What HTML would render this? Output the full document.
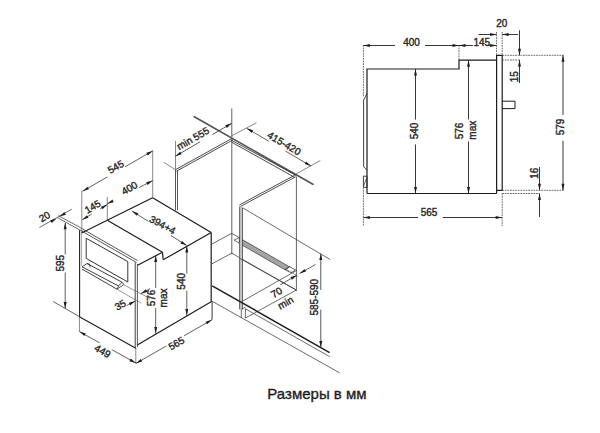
<!DOCTYPE html>
<html><head><meta charset="utf-8"><style>
html,body{margin:0;padding:0;background:#fff;}
body{width:600px;height:433px;overflow:hidden;}
svg{display:block;font-family:"Liberation Sans",sans-serif;}
.cap{position:absolute;left:0;top:0;}
</style></head><body>
<svg width="600" height="433" viewBox="0 0 600 433">
<rect width="600" height="433" fill="#fff"/>
<polyline points="367.00,193.50 367.00,69.00 459.00,69.00 459.00,60.20 496.60,60.20" fill="none" stroke="#1c1c1c" stroke-width="1.2" stroke-linejoin="miter"/>
<line x1="367.00" y1="193.50" x2="496.60" y2="193.50" stroke="#1c1c1c" stroke-width="1.2"/>
<polyline points="496.60,193.50 496.60,55.30 502.20,55.30 502.20,190.30 496.60,190.30" fill="none" stroke="#1c1c1c" stroke-width="1.2" stroke-linejoin="miter"/>
<polyline points="502.20,101.20 515.00,101.20 515.00,108.60 502.20,108.60" fill="none" stroke="#1c1c1c" stroke-width="1.0" stroke-linejoin="miter"/>
<path d="M367,93 Q366,96 363.6,100 L363.6,166 Q364,168 367,170" fill="none" stroke="#2c2c2c" stroke-width="0.9"/>
<polygon points="363.40,176.20 367.00,176.20 367.00,187.30 363.40,187.30" fill="none" stroke="#2c2c2c" stroke-width="0.9" stroke-linejoin="miter"/>
<line x1="363.60" y1="186.00" x2="366.60" y2="178.00" stroke="#2c2c2c" stroke-width="0.7"/>
<line x1="363.40" y1="45.00" x2="363.40" y2="97.00" stroke="#4a4a4a" stroke-width="0.8" stroke-dasharray="1.8,0.8"/>
<line x1="363.40" y1="187.30" x2="363.40" y2="226.00" stroke="#4a4a4a" stroke-width="0.8" stroke-dasharray="1.8,0.8"/>
<line x1="459.00" y1="45.00" x2="459.00" y2="60.00" stroke="#4a4a4a" stroke-width="0.8" stroke-dasharray="1.8,0.8"/>
<line x1="496.60" y1="32.00" x2="496.60" y2="55.30" stroke="#4a4a4a" stroke-width="0.8" stroke-dasharray="1.8,0.8"/>
<line x1="502.20" y1="32.00" x2="502.20" y2="55.30" stroke="#4a4a4a" stroke-width="0.8" stroke-dasharray="1.8,0.8"/>
<line x1="502.20" y1="55.30" x2="563.50" y2="55.30" stroke="#4a4a4a" stroke-width="0.8" stroke-dasharray="1.8,0.8"/>
<line x1="502.20" y1="60.00" x2="519.70" y2="60.00" stroke="#4a4a4a" stroke-width="0.8" stroke-dasharray="1.8,0.8"/>
<line x1="502.20" y1="190.30" x2="563.50" y2="190.30" stroke="#4a4a4a" stroke-width="0.8" stroke-dasharray="1.8,0.8"/>
<line x1="502.20" y1="193.50" x2="539.60" y2="193.50" stroke="#4a4a4a" stroke-width="0.8" stroke-dasharray="1.8,0.8"/>
<line x1="502.20" y1="193.50" x2="502.20" y2="226.00" stroke="#4a4a4a" stroke-width="0.8" stroke-dasharray="1.8,0.8"/>
<line x1="363.40" y1="45.50" x2="395.00" y2="45.50" stroke="#2c2c2c" stroke-width="0.95"/>
<line x1="425.00" y1="45.50" x2="459.00" y2="45.50" stroke="#2c2c2c" stroke-width="0.95"/>
<polygon points="363.40,45.50 369.90,44.00 369.90,47.00" fill="#1e1e1e"/>
<polygon points="459.00,45.50 452.50,47.00 452.50,44.00" fill="#1e1e1e"/>
<text transform="translate(411.50,42.30) rotate(0)" x="0" y="3.60" font-size="10" text-anchor="middle" fill="#2a2a2a" stroke="#2a2a2a" stroke-width="0.4">400</text>
<line x1="459.00" y1="45.50" x2="473.00" y2="45.50" stroke="#2c2c2c" stroke-width="0.95"/>
<line x1="487.00" y1="45.50" x2="496.60" y2="45.50" stroke="#2c2c2c" stroke-width="0.95"/>
<polygon points="459.00,45.50 465.50,44.00 465.50,47.00" fill="#1e1e1e"/>
<polygon points="496.60,45.50 490.10,47.00 490.10,44.00" fill="#1e1e1e"/>
<text transform="translate(481.80,42.00) rotate(0)" x="0" y="3.60" font-size="10" text-anchor="middle" fill="#2a2a2a" stroke="#2a2a2a" stroke-width="0.4">145</text>
<line x1="478.50" y1="34.50" x2="496.60" y2="34.50" stroke="#2c2c2c" stroke-width="0.95"/>
<line x1="502.20" y1="34.50" x2="518.00" y2="34.50" stroke="#2c2c2c" stroke-width="0.95"/>
<polygon points="496.60,34.50 490.10,36.00 490.10,33.00" fill="#1e1e1e"/>
<polygon points="502.20,34.50 508.70,33.00 508.70,36.00" fill="#1e1e1e"/>
<text transform="translate(501.80,23.80) rotate(0)" x="0" y="3.60" font-size="10" text-anchor="middle" fill="#2a2a2a" stroke="#2a2a2a" stroke-width="0.4">20</text>
<line x1="519.50" y1="30.30" x2="519.50" y2="55.30" stroke="#2c2c2c" stroke-width="0.95"/>
<polygon points="519.50,55.30 518.00,48.80 521.00,48.80" fill="#1e1e1e"/>
<line x1="519.50" y1="60.00" x2="519.50" y2="83.00" stroke="#2c2c2c" stroke-width="0.95"/>
<polygon points="519.50,60.00 521.00,66.50 518.00,66.50" fill="#1e1e1e"/>
<text transform="translate(514.30,76.70) rotate(-90)" x="0" y="3.60" font-size="10" text-anchor="middle" fill="#2a2a2a" stroke="#2a2a2a" stroke-width="0.4">15</text>
<line x1="563.00" y1="55.30" x2="563.00" y2="115.00" stroke="#2c2c2c" stroke-width="0.95"/>
<polygon points="563.00,55.30 564.50,61.80 561.50,61.80" fill="#1e1e1e"/>
<line x1="563.00" y1="140.80" x2="563.00" y2="190.30" stroke="#2c2c2c" stroke-width="0.95"/>
<polygon points="563.00,190.30 561.50,183.80 564.50,183.80" fill="#1e1e1e"/>
<text transform="translate(560.30,127.00) rotate(-90)" x="0" y="3.60" font-size="10" text-anchor="middle" fill="#2a2a2a" stroke="#2a2a2a" stroke-width="0.4">579</text>
<line x1="539.50" y1="167.00" x2="539.50" y2="190.30" stroke="#2c2c2c" stroke-width="0.95"/>
<polygon points="539.50,190.30 538.00,183.80 541.00,183.80" fill="#1e1e1e"/>
<line x1="539.50" y1="193.50" x2="539.50" y2="217.00" stroke="#2c2c2c" stroke-width="0.95"/>
<polygon points="539.50,193.50 541.00,200.00 538.00,200.00" fill="#1e1e1e"/>
<text transform="translate(534.20,173.20) rotate(-90)" x="0" y="3.60" font-size="10" text-anchor="middle" fill="#2a2a2a" stroke="#2a2a2a" stroke-width="0.4">16</text>
<line x1="415.50" y1="69.00" x2="415.50" y2="119.50" stroke="#2c2c2c" stroke-width="0.95"/>
<polygon points="415.50,69.00 417.00,75.50 414.00,75.50" fill="#1e1e1e"/>
<line x1="415.50" y1="144.50" x2="415.50" y2="193.50" stroke="#2c2c2c" stroke-width="0.95"/>
<polygon points="415.50,193.50 414.00,187.00 417.00,187.00" fill="#1e1e1e"/>
<text transform="translate(414.30,131.00) rotate(-90)" x="0" y="3.60" font-size="10" text-anchor="middle" fill="#2a2a2a" stroke="#2a2a2a" stroke-width="0.4">540</text>
<line x1="468.50" y1="60.20" x2="468.50" y2="119.50" stroke="#2c2c2c" stroke-width="0.95"/>
<polygon points="468.50,60.20 470.00,66.70 467.00,66.70" fill="#1e1e1e"/>
<line x1="468.50" y1="141.50" x2="468.50" y2="193.50" stroke="#2c2c2c" stroke-width="0.95"/>
<polygon points="468.50,193.50 467.00,187.00 470.00,187.00" fill="#1e1e1e"/>
<text transform="translate(459.30,131.00) rotate(-90)" x="0" y="3.60" font-size="10" text-anchor="middle" fill="#2a2a2a" stroke="#2a2a2a" stroke-width="0.4">576</text>
<text transform="translate(473.20,130.20) rotate(-90)" x="0" y="2.70" font-size="10" text-anchor="middle" fill="#2a2a2a" stroke="#2a2a2a" stroke-width="0.4">max</text>
<line x1="363.40" y1="217.50" x2="418.00" y2="217.50" stroke="#2c2c2c" stroke-width="0.95"/>
<line x1="442.80" y1="217.50" x2="502.20" y2="217.50" stroke="#2c2c2c" stroke-width="0.95"/>
<polygon points="363.40,217.50 369.90,216.00 369.90,219.00" fill="#1e1e1e"/>
<polygon points="502.20,217.50 495.70,219.00 495.70,216.00" fill="#1e1e1e"/>
<text transform="translate(429.00,212.80) rotate(0)" x="0" y="3.60" font-size="10" text-anchor="middle" fill="#2a2a2a" stroke="#2a2a2a" stroke-width="0.4">565</text>
<line x1="175.50" y1="169.70" x2="231.60" y2="138.60" stroke="#2c2c2c" stroke-width="0.85"/>
<line x1="176.37" y1="171.27" x2="232.47" y2="140.17" stroke="#2c2c2c" stroke-width="0.85"/>
<line x1="175.50" y1="169.70" x2="175.50" y2="210.40" stroke="#2c2c2c" stroke-width="0.8"/>
<line x1="177.50" y1="170.80" x2="177.50" y2="210.40" stroke="#2c2c2c" stroke-width="0.8"/>
<line x1="231.80" y1="108.50" x2="231.80" y2="254.30" stroke="#2c2c2c" stroke-width="0.75"/>
<line x1="194.3" y1="116.7" x2="312.9" y2="184.3" stroke="#555" stroke-width="1.7" stroke-linecap="round"/>
<line x1="231.80" y1="140.40" x2="296.00" y2="175.40" stroke="#2c2c2c" stroke-width="0.85"/>
<line x1="231.80" y1="142.30" x2="294.50" y2="177.30" stroke="#2c2c2c" stroke-width="0.85"/>
<line x1="296.40" y1="176.50" x2="296.40" y2="289.00" stroke="#2c2c2c" stroke-width="0.75"/>
<line x1="295.60" y1="176.80" x2="240.20" y2="206.60" stroke="#2c2c2c" stroke-width="0.85"/>
<line x1="294.75" y1="175.21" x2="239.35" y2="205.01" stroke="#2c2c2c" stroke-width="0.85"/>
<line x1="242.60" y1="207.80" x2="330.30" y2="259.60" stroke="#2c2c2c" stroke-width="0.7"/>
<line x1="211.60" y1="244.20" x2="231.80" y2="233.30" stroke="#2c2c2c" stroke-width="0.7"/>
<line x1="231.80" y1="233.30" x2="239.80" y2="238.00" stroke="#2c2c2c" stroke-width="0.7"/>
<line x1="211.60" y1="264.00" x2="231.80" y2="253.10" stroke="#2c2c2c" stroke-width="0.7"/>
<line x1="231.80" y1="253.10" x2="240.00" y2="258.00" stroke="#2c2c2c" stroke-width="0.7"/>
<line x1="242.60" y1="259.40" x2="296.90" y2="290.40" stroke="#2c2c2c" stroke-width="0.7"/>
<polygon points="241.4,239.1 289.5,266.8 285,269.8 241.4,244.7" fill="#a4a4a4" stroke="#333" stroke-width="0.7"/>
<polygon points="234.10,240.10 239.30,237.50 239.30,243.20" fill="none" stroke="#2c2c2c" stroke-width="0.7" stroke-linejoin="miter"/>
<polygon points="289.50,266.80 295.50,269.80 291.00,272.80 285.00,269.80" fill="none" stroke="#2c2c2c" stroke-width="0.7" stroke-linejoin="miter"/>
<rect x="239.6" y="206.6" width="2.9" height="102.8" fill="#c8c8c8"/>
<line x1="239.60" y1="206.60" x2="239.60" y2="309.40" stroke="#2c2c2c" stroke-width="0.7"/>
<line x1="242.50" y1="207.80" x2="242.50" y2="309.40" stroke="#2c2c2c" stroke-width="0.7"/>
<line x1="242.80" y1="301.00" x2="296.90" y2="270.30" stroke="#2c2c2c" stroke-width="0.7"/>
<line x1="245.40" y1="318.00" x2="296.90" y2="289.70" stroke="#2c2c2c" stroke-width="0.7"/>
<line x1="212.20" y1="285.80" x2="329.60" y2="352.60" stroke="#1e1e1e" stroke-width="1.5"/>
<line x1="245.40" y1="308.80" x2="329.60" y2="356.60" stroke="#2c2c2c" stroke-width="0.7"/>
<line x1="212.20" y1="301.30" x2="339.70" y2="372.90" stroke="#2c2c2c" stroke-width="0.7"/>
<line x1="212.20" y1="301.30" x2="212.20" y2="319.40" stroke="#555" stroke-width="0.7"/>
<line x1="241.30" y1="309.40" x2="241.30" y2="318.00" stroke="#2c2c2c" stroke-width="0.7"/>
<line x1="245.40" y1="308.40" x2="245.40" y2="318.00" stroke="#2c2c2c" stroke-width="0.7"/>
<line x1="241.30" y1="309.40" x2="245.40" y2="307.20" stroke="#2c2c2c" stroke-width="0.7"/>
<line x1="175.50" y1="141.00" x2="175.50" y2="169.70" stroke="#555" stroke-width="0.7"/>
<line x1="163.90" y1="162.40" x2="175.50" y2="169.70" stroke="#555" stroke-width="0.7"/>
<line x1="175.30" y1="156.30" x2="200.12" y2="141.78" stroke="#2c2c2c" stroke-width="0.8"/>
<line x1="212.52" y1="134.52" x2="231.70" y2="123.30" stroke="#2c2c2c" stroke-width="0.8"/>
<polygon points="175.30,156.30 180.15,151.72 181.67,154.31" fill="#1e1e1e"/>
<polygon points="231.70,123.30 226.85,127.88 225.33,125.29" fill="#1e1e1e"/>
<text transform="translate(193.00,138.60) rotate(-30)" x="0" y="3.30" font-size="10" text-anchor="middle" fill="#2a2a2a" stroke="#2a2a2a" stroke-width="0.4">min 555</text>
<line x1="232.00" y1="135.60" x2="256.50" y2="122.80" stroke="#555" stroke-width="0.7"/>
<line x1="296.00" y1="174.00" x2="320.30" y2="160.50" stroke="#555" stroke-width="0.7"/>
<line x1="246.80" y1="128.30" x2="268.95" y2="141.34" stroke="#2c2c2c" stroke-width="0.75"/>
<line x1="285.32" y1="150.98" x2="311.00" y2="166.10" stroke="#2c2c2c" stroke-width="0.75"/>
<polygon points="246.80,128.30 253.16,130.31 251.64,132.89" fill="#1e1e1e"/>
<polygon points="311.00,166.10 304.64,164.09 306.16,161.51" fill="#1e1e1e"/>
<text transform="translate(284.20,143.30) rotate(30.5)" x="0" y="3.60" font-size="10" text-anchor="middle" fill="#2a2a2a" stroke="#2a2a2a" stroke-width="0.4">415-420</text>
<line x1="320.80" y1="253.60" x2="320.80" y2="289.98" stroke="#2c2c2c" stroke-width="0.8"/>
<line x1="320.80" y1="309.62" x2="320.80" y2="347.60" stroke="#2c2c2c" stroke-width="0.8"/>
<polygon points="320.80,253.60 322.30,260.10 319.30,260.10" fill="#1e1e1e"/>
<polygon points="320.80,347.60 319.30,341.10 322.30,341.10" fill="#1e1e1e"/>
<text transform="translate(314.40,297.20) rotate(-90)" x="0" y="3.60" font-size="10" text-anchor="middle" fill="#2a2a2a" stroke="#2a2a2a" stroke-width="0.4">585-590</text>
<text transform="translate(276.50,292.40) rotate(-30)" x="0" y="3.60" font-size="10" text-anchor="middle" fill="#2a2a2a" stroke="#2a2a2a" stroke-width="0.4">70</text>
<text transform="translate(286.00,303.30) rotate(-30)" x="0" y="2.70" font-size="10" text-anchor="middle" fill="#2a2a2a" stroke="#2a2a2a" stroke-width="0.4">min</text>
<line x1="280.20" y1="284.80" x2="296.90" y2="275.20" stroke="#2c2c2c" stroke-width="0.75"/>
<polygon points="296.90,275.20 292.00,279.73 290.51,277.12" fill="#1e1e1e"/>
<line x1="299.60" y1="273.50" x2="315.60" y2="264.50" stroke="#2c2c2c" stroke-width="0.75"/>
<polygon points="299.60,273.50 304.51,268.99 305.99,271.60" fill="#1e1e1e"/>
<line x1="285.80" y1="268.90" x2="298.30" y2="276.50" stroke="#555" stroke-width="0.6"/>
<line x1="240.00" y1="258.50" x2="296.90" y2="290.40" stroke="#2c2c2c" stroke-width="0.7"/>
<line x1="79.60" y1="230.20" x2="79.60" y2="316.80" stroke="#1c1c1c" stroke-width="1.1"/>
<line x1="81.60" y1="231.50" x2="81.60" y2="266.00" stroke="#555" stroke-width="0.5"/>
<line x1="80.20" y1="230.20" x2="136.50" y2="262.50" stroke="#2c2c2c" stroke-width="0.8"/>
<line x1="81.29" y1="228.29" x2="137.59" y2="260.59" stroke="#2c2c2c" stroke-width="0.8"/>
<line x1="135.20" y1="262.50" x2="135.20" y2="348.20" stroke="#2c2c2c" stroke-width="0.9"/>
<line x1="137.40" y1="263.80" x2="137.40" y2="347.00" stroke="#2c2c2c" stroke-width="0.8"/>
<line x1="79.40" y1="316.80" x2="135.80" y2="348.20" stroke="#1c1c1c" stroke-width="1.1"/>
<polygon points="86.20,238.30 127.80,261.60 127.80,282.00 86.20,258.40" fill="none" stroke="#1c1c1c" stroke-width="0.9" stroke-linejoin="miter"/>
<line x1="87.00" y1="263.50" x2="122.00" y2="282.20" stroke="#1c1c1c" stroke-width="0.85"/>
<line x1="82.00" y1="266.80" x2="118.50" y2="286.00" stroke="#1c1c1c" stroke-width="0.85"/>
<line x1="82.00" y1="269.00" x2="117.00" y2="289.20" stroke="#1c1c1c" stroke-width="0.85"/>
<polyline points="82.00,266.80 87.00,263.50 89.50,264.20 90.20,267.20" fill="none" stroke="#1c1c1c" stroke-width="0.75" stroke-linejoin="miter"/>
<polyline points="118.50,286.00 122.00,282.20 123.80,284.50 117.00,289.20" fill="none" stroke="#1c1c1c" stroke-width="0.75" stroke-linejoin="miter"/>
<line x1="118.50" y1="286.00" x2="117.00" y2="289.20" stroke="#1c1c1c" stroke-width="0.75"/>
<line x1="81.50" y1="233.00" x2="152.60" y2="197.80" stroke="#1c1c1c" stroke-width="1.2"/>
<line x1="152.60" y1="197.80" x2="211.20" y2="232.50" stroke="#1c1c1c" stroke-width="1.2"/>
<line x1="107.25" y1="220.30" x2="162.50" y2="252.20" stroke="#1c1c1c" stroke-width="1.2"/>
<line x1="162.50" y1="252.20" x2="137.60" y2="265.30" stroke="#1c1c1c" stroke-width="1.2"/>
<line x1="162.50" y1="252.20" x2="163.20" y2="259.80" stroke="#1c1c1c" stroke-width="1.2"/>
<line x1="163.20" y1="259.80" x2="211.20" y2="232.50" stroke="#1c1c1c" stroke-width="1.2"/>
<line x1="211.20" y1="232.50" x2="211.20" y2="301.20" stroke="#1c1c1c" stroke-width="1.2"/>
<line x1="137.30" y1="345.00" x2="212.00" y2="301.20" stroke="#1c1c1c" stroke-width="1.2"/>
<line x1="57.40" y1="217.60" x2="80.20" y2="230.20" stroke="#2c2c2c" stroke-width="0.7"/>
<line x1="58.40" y1="215.60" x2="81.00" y2="228.00" stroke="#2c2c2c" stroke-width="0.7"/>
<line x1="39.40" y1="227.50" x2="71.80" y2="209.20" stroke="#2c2c2c" stroke-width="0.7"/>
<polygon points="56.60,218.40 51.69,222.92 50.21,220.31" fill="#1e1e1e"/>
<polygon points="59.50,216.60 64.37,212.04 65.87,214.63" fill="#1e1e1e"/>
<text transform="translate(44.40,216.50) rotate(-30)" x="0" y="3.60" font-size="10" text-anchor="middle" fill="#2a2a2a" stroke="#2a2a2a" stroke-width="0.4">20</text>
<line x1="65.20" y1="222.80" x2="65.20" y2="254.51" stroke="#2c2c2c" stroke-width="0.75"/>
<line x1="65.20" y1="272.51" x2="65.20" y2="308.50" stroke="#2c2c2c" stroke-width="0.75"/>
<polygon points="65.20,222.80 66.70,229.30 63.70,229.30" fill="#1e1e1e"/>
<polygon points="65.20,308.50 63.70,302.00 66.70,302.00" fill="#1e1e1e"/>
<text transform="translate(60.50,263.20) rotate(-90)" x="0" y="3.60" font-size="10" text-anchor="middle" fill="#2a2a2a" stroke="#2a2a2a" stroke-width="0.4">595</text>
<line x1="53.20" y1="301.50" x2="79.60" y2="316.80" stroke="#2c2c2c" stroke-width="0.75"/>
<line x1="81.80" y1="190.50" x2="81.80" y2="231.50" stroke="#555" stroke-width="0.7"/>
<line x1="152.70" y1="150.50" x2="152.70" y2="197.80" stroke="#555" stroke-width="0.7"/>
<line x1="82.60" y1="191.20" x2="107.42" y2="176.93" stroke="#2c2c2c" stroke-width="0.75"/>
<line x1="125.01" y1="166.82" x2="152.70" y2="150.90" stroke="#2c2c2c" stroke-width="0.75"/>
<polygon points="82.60,191.20 87.49,186.66 88.98,189.26" fill="#1e1e1e"/>
<polygon points="152.70,150.90 147.81,155.44 146.32,152.84" fill="#1e1e1e"/>
<text transform="translate(115.70,166.80) rotate(-30)" x="0" y="3.60" font-size="10" text-anchor="middle" fill="#2a2a2a" stroke="#2a2a2a" stroke-width="0.4">545</text>
<line x1="107.30" y1="196.80" x2="107.30" y2="220.30" stroke="#555" stroke-width="0.7"/>
<line x1="82.20" y1="219.80" x2="91.74" y2="214.02" stroke="#2c2c2c" stroke-width="0.75"/>
<line x1="100.27" y1="208.86" x2="107.30" y2="204.60" stroke="#2c2c2c" stroke-width="0.75"/>
<polygon points="82.20,219.80 86.98,215.15 88.54,217.72" fill="#1e1e1e"/>
<polygon points="107.30,204.60 102.52,209.25 100.96,206.68" fill="#1e1e1e"/>
<text transform="translate(92.60,206.60) rotate(-30)" x="0" y="3.60" font-size="10" text-anchor="middle" fill="#2a2a2a" stroke="#2a2a2a" stroke-width="0.4">145</text>
<line x1="107.30" y1="203.80" x2="110.93" y2="201.94" stroke="#2c2c2c" stroke-width="0.75"/>
<line x1="139.08" y1="187.56" x2="152.70" y2="180.60" stroke="#2c2c2c" stroke-width="0.75"/>
<polygon points="107.30,203.80 112.41,199.51 113.77,202.18" fill="#1e1e1e"/>
<polygon points="152.70,180.60 147.59,184.89 146.23,182.22" fill="#1e1e1e"/>
<text transform="translate(129.30,188.00) rotate(-30)" x="0" y="3.60" font-size="10" text-anchor="middle" fill="#2a2a2a" stroke="#2a2a2a" stroke-width="0.4">400</text>
<line x1="132.00" y1="211.10" x2="148.35" y2="221.36" stroke="#2c2c2c" stroke-width="0.75"/>
<line x1="170.69" y1="235.38" x2="186.50" y2="245.30" stroke="#2c2c2c" stroke-width="0.75"/>
<polygon points="132.00,211.00 138.32,213.13 136.75,215.68" fill="#1e1e1e"/>
<polygon points="186.80,245.50 180.44,243.47 181.97,240.89" fill="#1e1e1e"/>
<text transform="translate(162.60,224.80) rotate(29)" x="0" y="3.60" font-size="10" text-anchor="middle" fill="#2a2a2a" stroke="#2a2a2a" stroke-width="0.4">394+4</text>
<line x1="186.80" y1="245.90" x2="186.80" y2="273.60" stroke="#2c2c2c" stroke-width="0.75"/>
<polygon points="186.80,245.90 188.30,252.40 185.30,252.40" fill="#1e1e1e"/>
<line x1="186.80" y1="290.80" x2="186.80" y2="315.50" stroke="#2c2c2c" stroke-width="0.75"/>
<polygon points="186.80,315.50 185.30,309.00 188.30,309.00" fill="#1e1e1e"/>
<text transform="translate(181.50,281.30) rotate(-90)" x="0" y="3.60" font-size="10" text-anchor="middle" fill="#2a2a2a" stroke="#2a2a2a" stroke-width="0.4">540</text>
<line x1="155.70" y1="255.60" x2="155.70" y2="288.00" stroke="#2c2c2c" stroke-width="0.75"/>
<polygon points="155.70,255.60 157.20,262.10 154.20,262.10" fill="#1e1e1e"/>
<line x1="155.70" y1="308.00" x2="155.70" y2="333.50" stroke="#2c2c2c" stroke-width="0.75"/>
<polygon points="155.70,333.50 154.20,327.00 157.20,327.00" fill="#1e1e1e"/>
<text transform="translate(151.00,298.00) rotate(-90)" x="0" y="3.60" font-size="10" text-anchor="middle" fill="#2a2a2a" stroke="#2a2a2a" stroke-width="0.4">576</text>
<text transform="translate(163.80,298.00) rotate(-90)" x="0" y="2.70" font-size="10" text-anchor="middle" fill="#2a2a2a" stroke="#2a2a2a" stroke-width="0.4">max</text>
<line x1="135.80" y1="348.20" x2="135.80" y2="363.50" stroke="#555" stroke-width="0.7"/>
<line x1="212.00" y1="301.20" x2="212.00" y2="319.70" stroke="#555" stroke-width="0.7"/>
<line x1="135.80" y1="363.50" x2="166.28" y2="345.98" stroke="#2c2c2c" stroke-width="0.75"/>
<line x1="184.11" y1="335.73" x2="212.00" y2="319.70" stroke="#2c2c2c" stroke-width="0.75"/>
<polygon points="135.80,363.50 140.69,358.96 142.18,361.56" fill="#1e1e1e"/>
<polygon points="212.00,319.70 207.11,324.24 205.62,321.64" fill="#1e1e1e"/>
<text transform="translate(176.30,343.30) rotate(-30)" x="0" y="3.60" font-size="10" text-anchor="middle" fill="#2a2a2a" stroke="#2a2a2a" stroke-width="0.4">565</text>
<line x1="79.40" y1="316.80" x2="79.40" y2="331.60" stroke="#555" stroke-width="0.7"/>
<line x1="79.40" y1="331.60" x2="99.59" y2="342.84" stroke="#2c2c2c" stroke-width="0.75"/>
<line x1="111.72" y1="349.59" x2="135.80" y2="363.00" stroke="#2c2c2c" stroke-width="0.75"/>
<polygon points="79.40,331.60 85.81,333.45 84.35,336.07" fill="#1e1e1e"/>
<polygon points="135.80,363.00 129.39,361.15 130.85,358.53" fill="#1e1e1e"/>
<text transform="translate(102.60,351.00) rotate(30)" x="0" y="3.60" font-size="10" text-anchor="middle" fill="#2a2a2a" stroke="#2a2a2a" stroke-width="0.4">449</text>
<text transform="translate(120.20,304.80) rotate(-30)" x="0" y="3.60" font-size="10" text-anchor="middle" fill="#2a2a2a" stroke="#2a2a2a" stroke-width="0.4">35</text>
<line x1="117.00" y1="289.20" x2="141.20" y2="303.20" stroke="#555" stroke-width="0.6"/>
<line x1="123.20" y1="284.50" x2="150.00" y2="298.50" stroke="#555" stroke-width="0.6"/>
<line x1="126.50" y1="305.70" x2="135.20" y2="301.00" stroke="#2c2c2c" stroke-width="0.7"/>
<polygon points="135.20,301.00 130.21,305.42 128.77,302.79" fill="#1e1e1e"/>
<polygon points="140.80,293.80 145.72,289.30 147.20,291.91" fill="#1e1e1e"/>
<line x1="140.80" y1="293.80" x2="150.20" y2="288.50" stroke="#2c2c2c" stroke-width="0.75"/>
<text x="317" y="399.2" font-size="15" text-anchor="middle" fill="#1e1e1e" stroke="#1e1e1e" stroke-width="0.35">Размеры в мм</text>
</svg>
</body></html>
